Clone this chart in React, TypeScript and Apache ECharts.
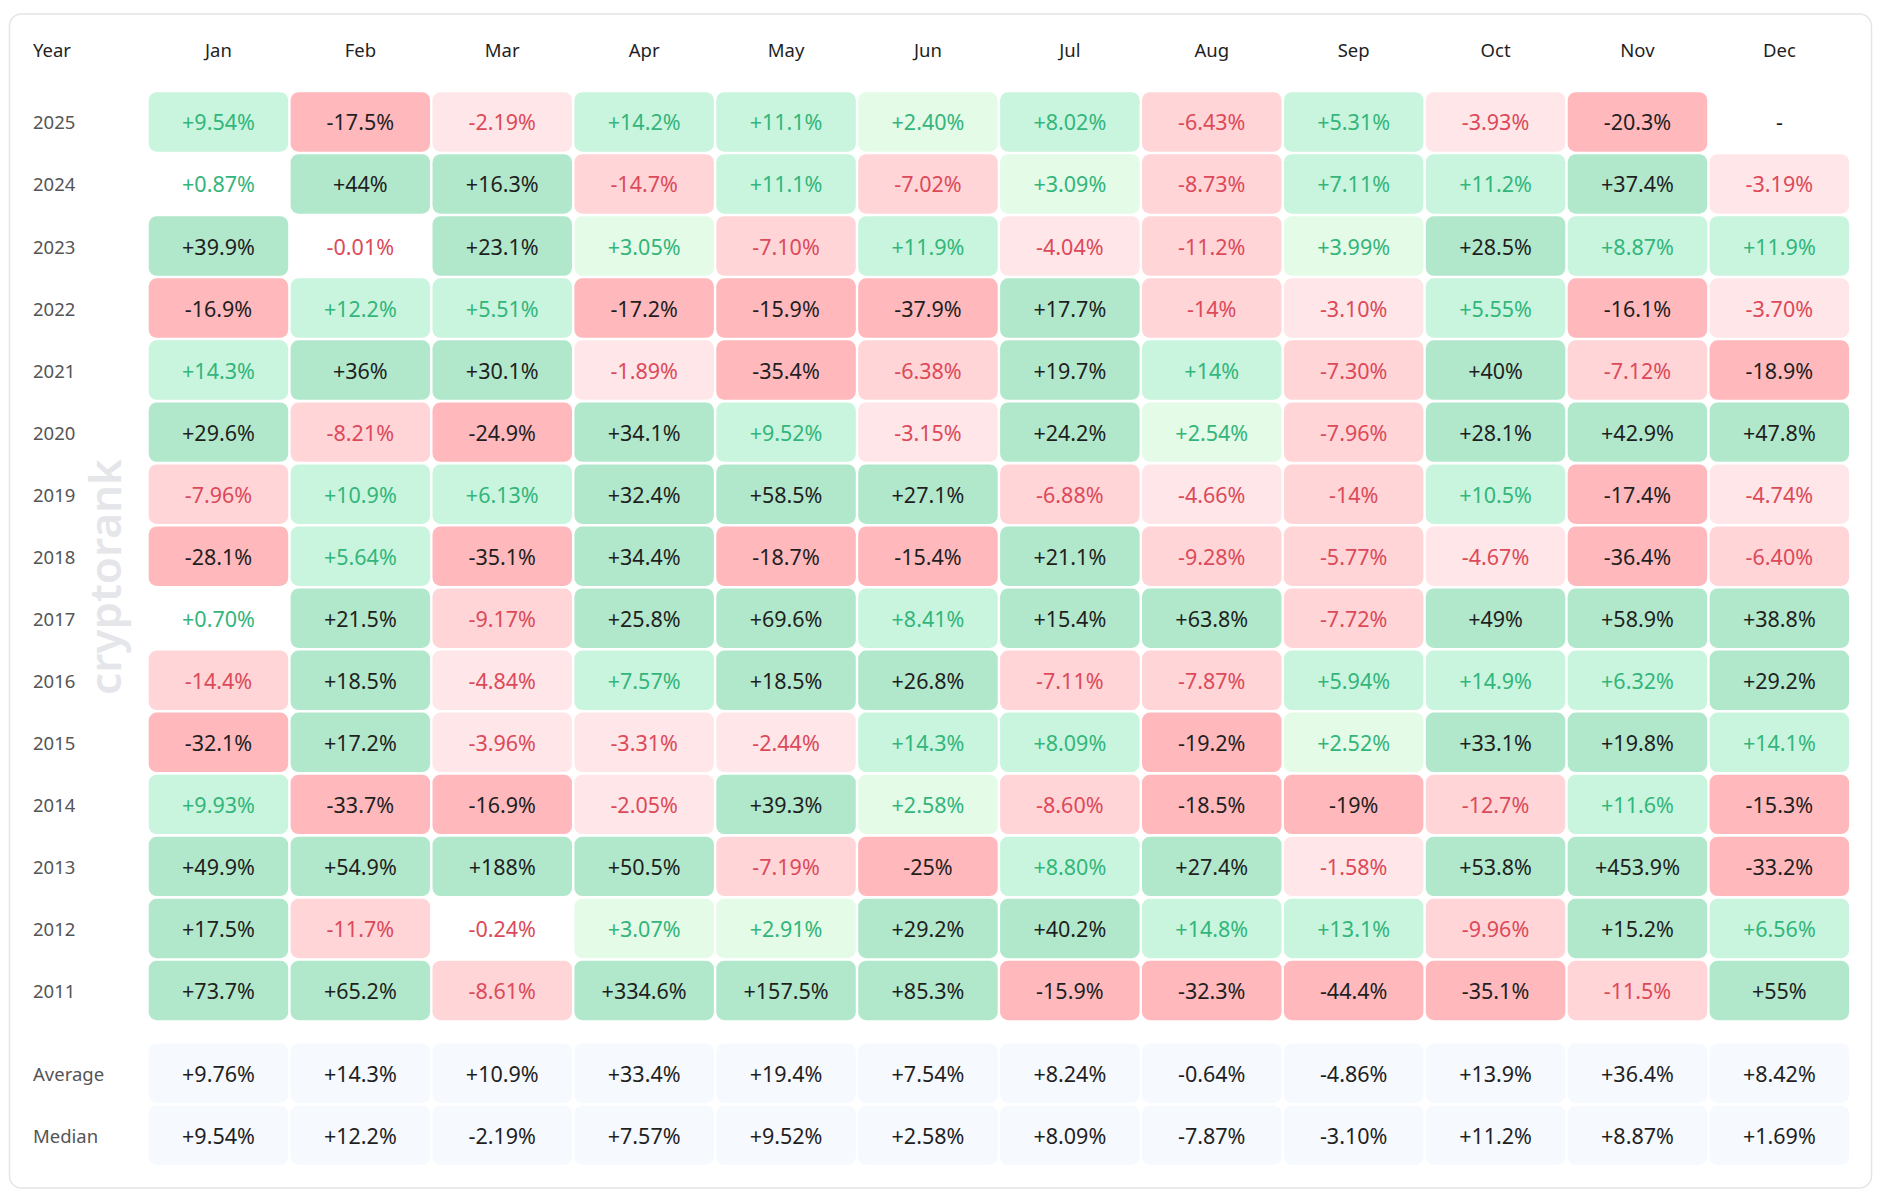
import React, { useEffect, useRef } from "react";
import * as echarts from "echarts";

const months = ["Jan", "Feb", "Mar", "Apr", "May", "Jun", "Jul", "Aug", "Sep", "Oct", "Nov", "Dec"];
const years = ["2025", "2024", "2023", "2022", "2021", "2020", "2019", "2018", "2017", "2016", "2015", "2014", "2013", "2012", "2011"];

const r2025 = [9.54, -17.5, -2.19, 14.2, 11.1, 2.40, 8.02, -6.43, 5.31, -3.93, -20.3, null];
const r2024 = [0.87, 44, 16.3, -14.7, 11.1, -7.02, 3.09, -8.73, 7.11, 11.2, 37.4, -3.19];
const r2023 = [39.9, -0.01, 23.1, 3.05, -7.10, 11.9, -4.04, -11.2, 3.99, 28.5, 8.87, 11.9];
const r2022 = [-16.9, 12.2, 5.51, -17.2, -15.9, -37.9, 17.7, -14, -3.10, 5.55, -16.1, -3.70];
const r2021 = [14.3, 36, 30.1, -1.89, -35.4, -6.38, 19.7, 14, -7.30, 40, -7.12, -18.9];
const r2020 = [29.6, -8.21, -24.9, 34.1, 9.52, -3.15, 24.2, 2.54, -7.96, 28.1, 42.9, 47.8];
const r2019 = [-7.96, 10.9, 6.13, 32.4, 58.5, 27.1, -6.88, -4.66, -14, 10.5, -17.4, -4.74];
const r2018 = [-28.1, 5.64, -35.1, 34.4, -18.7, -15.4, 21.1, -9.28, -5.77, -4.67, -36.4, -6.40];
const r2017 = [0.70, 21.5, -9.17, 25.8, 69.6, 8.41, 15.4, 63.8, -7.72, 49, 58.9, 38.8];
const r2016 = [-14.4, 18.5, -4.84, 7.57, 18.5, 26.8, -7.11, -7.87, 5.94, 14.9, 6.32, 29.2];
const r2015 = [-32.1, 17.2, -3.96, -3.31, -2.44, 14.3, 8.09, -19.2, 2.52, 33.1, 19.8, 14.1];
const r2014 = [9.93, -33.7, -16.9, -2.05, 39.3, 2.58, -8.60, -18.5, -19, -12.7, 11.6, -15.3];
const r2013 = [49.9, 54.9, 188, 50.5, -7.19, -25, 8.80, 27.4, -1.58, 53.8, 453.9, -33.2];
const r2012 = [17.5, -11.7, -0.24, 3.07, 2.91, 29.2, 40.2, 14.8, 13.1, -9.96, 15.2, 6.56];
const r2011 = [73.7, 65.2, -8.61, 334.6, 157.5, 85.3, -15.9, -32.3, -44.4, -35.1, -11.5, 55];

const yearRows = [r2025, r2024, r2023, r2022, r2021, r2020, r2019, r2018, r2017, r2016, r2015, r2014, r2013, r2012, r2011];

const statLabels = ["Average", "Median"];
const averageRow = [9.76, 14.3, 10.9, 33.4, 19.4, 7.54, 8.24, -0.64, -4.86, 13.9, 36.4, 8.42];
const medianRow = [9.54, 12.2, -2.19, 7.57, 9.52, 2.58, 8.09, -7.87, -3.10, 11.2, 8.87, 1.69];
const statRows = [averageRow, medianRow];

const FONT = "'Noto Sans', 'Open Sans', sans-serif";

function fmt(v: number | null): string {
  if (v === null || v === undefined) return "-";
  const a = Math.abs(v);
  let s: string;
  if (a < 10) s = a.toFixed(2);
  else {
    s = a.toFixed(1);
    if (s.endsWith(".0")) s = s.slice(0, -2);
  }
  return (v < 0 ? "-" : "+") + s;
}

function cellColors(v: number | null): { bg: string; fg: string } {
  if (v === null || v === undefined) return { bg: "transparent", fg: "#1f1f1f" };
  const a = Math.abs(v);
  if (v >= 0) {
    if (a < 1) return { bg: "transparent", fg: "#33b57b" };
    if (a < 5) return { bg: "#e4fbe8", fg: "#33b57b" };
    if (a < 15) return { bg: "#c9f5df", fg: "#33b57b" };
    return { bg: "#b1e8cb", fg: "#1f1f1f" };
  }
  if (a < 1) return { bg: "transparent", fg: "#dc4a59" };
  if (a < 5) return { bg: "#ffe6e8", fg: "#dc4a59" };
  if (a < 15) return { bg: "#ffd5d8", fg: "#dc4a59" };
  return { bg: "#ffb8bc", fg: "#1f1f1f" };
}

export default function App() {
  const ref = useRef<HTMLDivElement>(null);
  useEffect(() => {
    if (!ref.current) return;
    const chart = echarts.init(ref.current, undefined, { renderer: "svg" });

    const mainData: number[][] = [];
    const mainVals: (number | null)[] = [];
    yearRows.forEach((row, yi) => {
      row.forEach((v, mi) => {
        mainData.push([mi, yi, mainVals.length]);
        mainVals.push(v);
      });
    });
    const statData: number[][] = [];
    const statVals: number[] = [];
    statRows.forEach((row, yi) => {
      row.forEach((v, mi) => {
        statData.push([mi, yi, statVals.length]);
        statVals.push(v);
      });
    });

    const makeRender = (isStat: boolean) => (params: any, api: any) => {
      const mi = api.value(0);
      const yi = api.value(1);
      const idx = api.value(2);
      const c = api.coord([mi, yi]);
      const s = api.size([1, 1]);
      const w = s[0] - 2.4;
      const h = s[1] - 2.6;
      let bg: string;
      let fg: string;
      let text: string;
      if (isStat) {
        const v = statVals[idx];
        bg = "#f6f9fe";
        fg = "#1f1f1f";
        text = fmt(v) + "%";
      } else {
        const v = mainVals[idx];
        const cc = cellColors(v);
        bg = cc.bg;
        fg = cc.fg;
        text = v === null ? "-" : fmt(v) + "%";
      }
      return {
        type: "group",
        children: [
          {
            type: "rect",
            shape: { x: c[0] - w / 2, y: c[1] - h / 2, width: w, height: h, r: 8 },
            style: { fill: bg },
          },
          {
            type: "text",
            style: {
              text,
              x: c[0],
              y: c[1],
              align: "center",
              verticalAlign: "middle",
              fill: fg,
              fontSize: 21.5,
              fontFamily: FONT,
            },
          },
        ],
      };
    };

    const gridLeft = 147.5;
    const gridWidth = 1702.8;

    chart.setOption({
      animation: false,
      backgroundColor: "#ffffff",
      graphic: [
        {
          type: "rect",
          z: -10,
          shape: { x: 9.5, y: 14, width: 1862, height: 1174, r: 12 },
          style: { fill: "#ffffff", stroke: "#e3e5e8", lineWidth: 1.5 },
        },
        {
          type: "text",
          z: 1,
          x: 33,
          y: 49.8,
          style: {
            text: "Year",
            fill: "#1f1f1f",
            fontSize: 18.5,
            fontFamily: FONT,
            verticalAlign: "middle",
            align: "left",
          },
        },
        {
          type: "text",
          z: 1,
          x: 104,
          y: 577,
          rotation: Math.PI / 2,
          style: {
            text: "cryptorank",
            fill: "#e4e6ea",
            fontSize: 44,
            fontWeight: 600,
            fontFamily: FONT,
            verticalAlign: "middle",
            align: "center",
          },
        },
      ],
      grid: [
        { left: gridLeft, top: 90.9, width: gridWidth, height: 930.6 },
        { left: gridLeft, top: 1042.2, width: gridWidth, height: 124 },
      ],
      xAxis: [
        {
          type: "category",
          gridIndex: 0,
          data: months,
          position: "top",
          axisLine: { show: false },
          axisTick: { show: false },
          splitLine: { show: false },
          axisLabel: {
            margin: 41,
            verticalAlign: "middle",
            color: "#1f1f1f",
            fontSize: 18.5,
            fontFamily: FONT,
            interval: 0,
          },
        },
        {
          type: "category",
          gridIndex: 1,
          data: months,
          show: false,
        },
      ],
      yAxis: [
        {
          type: "category",
          gridIndex: 0,
          data: years,
          inverse: true,
          axisLine: { show: false },
          axisTick: { show: false },
          splitLine: { show: false },
          axisLabel: {
            margin: gridLeft - 33,
            align: "left",
            color: "#555555",
            fontSize: 18.5,
            fontFamily: FONT,
            interval: 0,
          },
        },
        {
          type: "category",
          gridIndex: 1,
          data: statLabels,
          inverse: true,
          axisLine: { show: false },
          axisTick: { show: false },
          splitLine: { show: false },
          axisLabel: {
            margin: gridLeft - 33,
            align: "left",
            color: "#555555",
            fontSize: 18.5,
            fontFamily: FONT,
            interval: 0,
          },
        },
      ],
      series: [
        {
          type: "custom",
          xAxisIndex: 0,
          yAxisIndex: 0,
          data: mainData,
          renderItem: makeRender(false),
          encode: { x: 0, y: 1 },
          silent: true,
        },
        {
          type: "custom",
          xAxisIndex: 1,
          yAxisIndex: 1,
          data: statData,
          renderItem: makeRender(true),
          encode: { x: 0, y: 1 },
          silent: true,
        },
      ],
    });
    return () => chart.dispose();
  }, []);
  return (
    <div
      ref={ref}
      style={{ position: "absolute", left: 0, top: 0, width: 1884, height: 1200, background: "#fff" }}
    />
  );
}
